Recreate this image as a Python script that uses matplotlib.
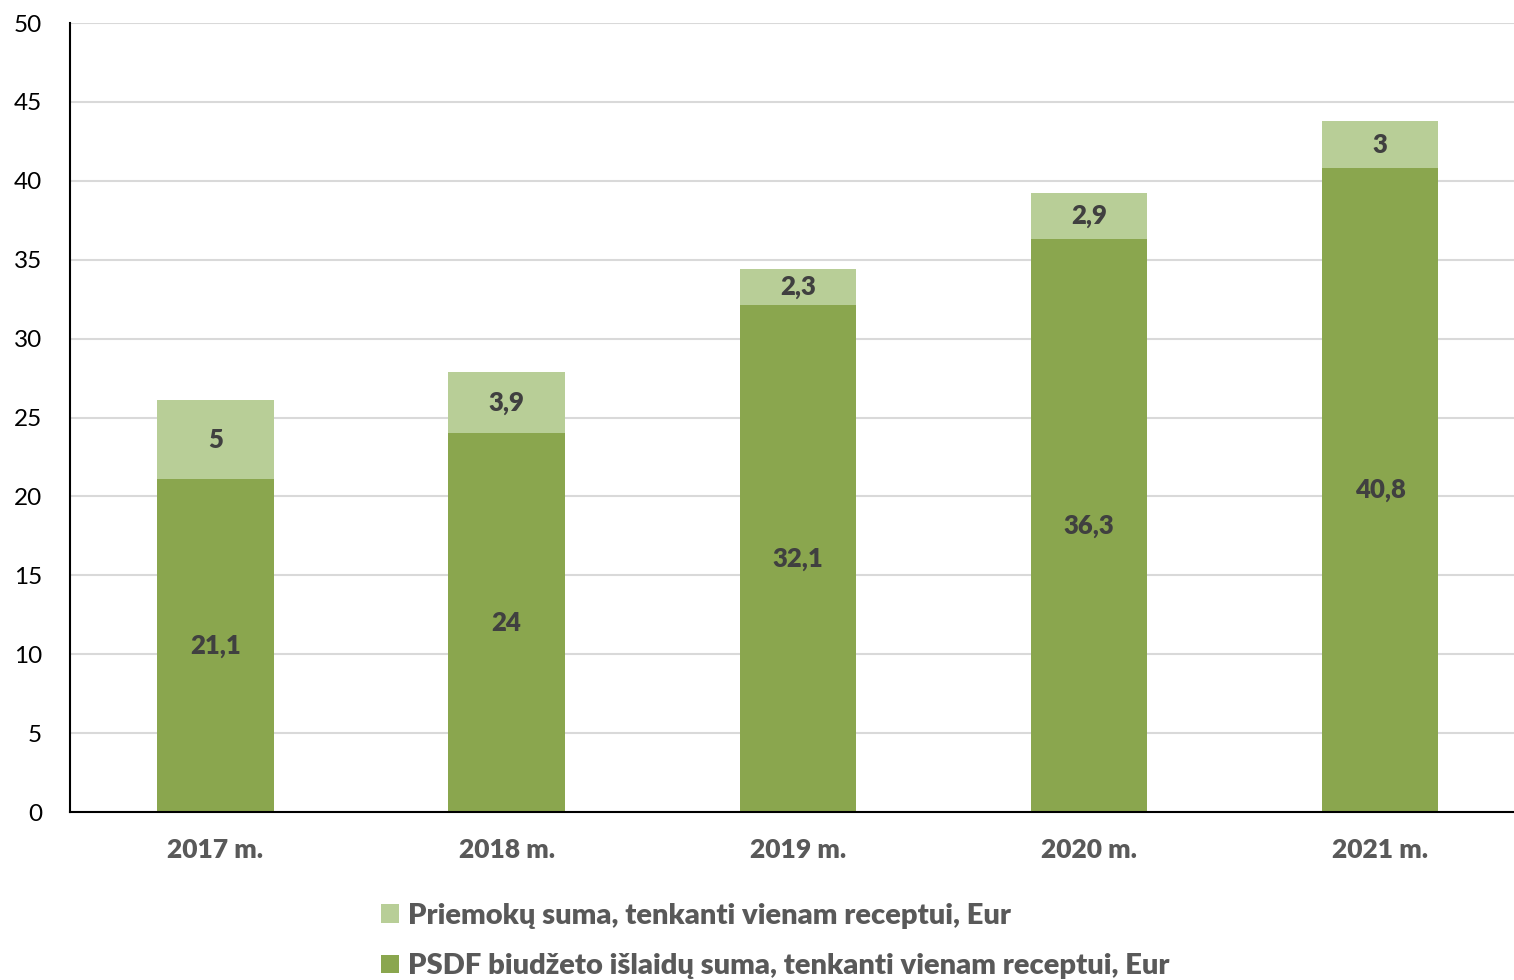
import matplotlib.pyplot as plt

plt.rcParams['font.family'] = ['Lato', 'DejaVu Sans']

years = ['2017 m.', '2018 m.', '2019 m.', '2020 m.', '2021 m.']
psdf = [21.1, 24, 32.1, 36.3, 40.8]
priemokos = [5, 3.9, 2.3, 2.9, 3]
psdf_labels = ['21,1', '24', '32,1', '36,3', '40,8']
priem_labels = ['5', '3,9', '2,3', '2,9', '3']

dark = '#8aa64e'
light = '#b8ce97'
txt = '#404040'

fig = plt.figure(figsize=(15.14, 9.8), dpi=100)
ax = fig.add_axes([0.0462, 0.1714, 0.9538, 0.8051])

x = range(len(years))
b1 = ax.bar(x, psdf, width=0.4, color=dark, zorder=2,
            label='PSDF biudžeto išlaidų suma, tenkanti vienam receptui, Eur')
b2 = ax.bar(x, priemokos, width=0.4, bottom=psdf, color=light, zorder=2,
            label='Priemokų suma, tenkanti vienam receptui, Eur')

ax.bar_label(b1, labels=psdf_labels, label_type='center', fontsize=18.5,
             fontweight='heavy', color=txt)
ax.bar_label(b2, labels=priem_labels, label_type='center', fontsize=18.5,
             fontweight='heavy', color=txt)

ax.set_ylim(0, 50)
ax.set_xlim(-0.5, 4.46)
ax.set_yticks(range(0, 51, 5))
ax.grid(axis='y', color='#d9d9d9', linewidth=1.5, zorder=0)
ax.set_xticks(list(x))
ax.set_xticklabels(years, fontsize=19, fontweight='heavy', color='#595959')
ax.tick_params(axis='y', labelsize=17.5, length=0, pad=20, labelcolor='black')
ax.tick_params(axis='x', length=0, pad=19)

for s in ['top', 'right']:
    ax.spines[s].set_visible(False)
ax.spines['left'].set_linewidth(1.5)
ax.spines['bottom'].set_linewidth(1.5)

handles = [b2, b1]
leg = ax.legend(handles=handles, labels=[h.get_label() for h in handles],
                loc='upper left', bbox_to_anchor=(0.2075, -0.1), frameon=False,
                ncol=1, prop={'size': 21, 'weight': 'heavy'}, handlelength=0.6,
                handleheight=0.6, handletextpad=0.3, labelspacing=0.85,
                borderaxespad=0)
for t in leg.get_texts():
    t.set_color('#595959')

fig.savefig('out.png', dpi=100)
